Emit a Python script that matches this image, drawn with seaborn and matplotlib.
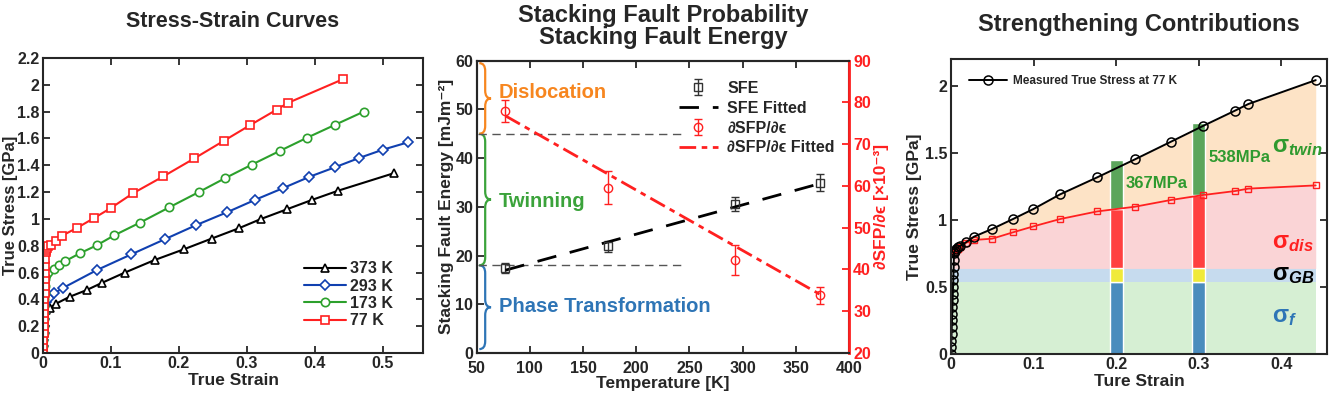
import numpy as np
import pandas as pd
import matplotlib
matplotlib.use("Agg")
import matplotlib.pyplot as plt
from matplotlib.path import Path
from matplotlib.patches import PathPatch
from matplotlib.ticker import FuncFormatter
import seaborn as sns

# ---------------- data: stress-strain curves ----------------
strain_373 = [0, 0.0003, 0.0005, 0.0008, 0.001, 0.0013, 0.0015, 0.004, 0.0098, 0.0196, 0.039, 0.064,
              0.087, 0.12, 0.164, 0.207, 0.248, 0.288, 0.32, 0.359, 0.396, 0.434, 0.517]
stress_373 = [0, 0.05, 0.1, 0.15, 0.2, 0.25, 0.3, 0.32, 0.337, 0.369, 0.419, 0.469,
              0.524, 0.599, 0.693, 0.773, 0.853, 0.93, 0.998, 1.072, 1.142, 1.21, 1.342]

strain_293 = [0, 0.0003, 0.0005, 0.0008, 0.001, 0.0013, 0.0015, 0.0018, 0.004, 0.009, 0.016, 0.029,
              0.079, 0.13, 0.179, 0.225, 0.271, 0.312, 0.353, 0.392, 0.429, 0.465, 0.5, 0.537]
stress_293 = [0, 0.05, 0.1, 0.15, 0.2, 0.25, 0.3, 0.35, 0.38, 0.41, 0.444, 0.484,
              0.618, 0.736, 0.848, 0.953, 1.05, 1.142, 1.229, 1.314, 1.384, 1.454, 1.516, 1.571]

strain_173 = [0, 0.0003, 0.0005, 0.0008, 0.001, 0.0013, 0.0015, 0.0018, 0.002, 0.0023, 0.0025, 0.0028,
              0.004, 0.008, 0.016, 0.0235, 0.033, 0.054, 0.079, 0.105, 0.143, 0.186, 0.23, 0.268,
              0.307, 0.348, 0.388, 0.429, 0.472]
stress_173 = [0, 0.05, 0.1, 0.15, 0.2, 0.25, 0.3, 0.35, 0.4, 0.45, 0.5, 0.55,
              0.58, 0.605, 0.628, 0.656, 0.686, 0.743, 0.803, 0.878, 0.973, 1.087, 1.202, 1.304,
              1.404, 1.506, 1.604, 1.70, 1.80]

strain_77_elastic = [0, 0.0003, 0.0005, 0.0008, 0.001, 0.0013, 0.0015, 0.0018, 0.002, 0.0023,
                     0.0025, 0.0028, 0.003, 0.0033, 0.0035, 0.0038]
stress_77_elastic = [0, 0.05, 0.1, 0.15, 0.2, 0.25, 0.3, 0.35, 0.4, 0.45,
                     0.5, 0.55, 0.6, 0.65, 0.7, 0.75]
strain_77_plastic = [0.0045, 0.006, 0.008, 0.011, 0.0186, 0.028, 0.05, 0.075, 0.0995, 0.132,
                     0.177, 0.2226, 0.266, 0.305, 0.344, 0.36, 0.4415]
stress_77_plastic = [0.77, 0.785, 0.795, 0.805, 0.835, 0.875, 0.933, 1.006, 1.08, 1.19,
                     1.317, 1.451, 1.582, 1.70, 1.815, 1.864, 2.042]
strain_77 = strain_77_elastic + strain_77_plastic
stress_77 = stress_77_elastic + stress_77_plastic

curve_labels = ["373 K", "293 K", "173 K", "77 K"]

# ---------------- data: SFE / SFP ----------------
temperature = [77, 173, 293, 373]
sfe = [17.4, 21.9, 30.6, 35.0]
sfe_err = [1.0, 1.1, 1.4, 1.7]
sfe_fit_t = [77, 373]
sfe_fit = [17.0, 34.8]
sfp = [78.0, 59.6, 42.3, 33.8]
sfp_err = [2.7, 3.9, 3.5, 2.1]
sfp_fit_t = [77, 373]
sfp_fit = [76.8, 34.0]
region_bounds = [0.8, 18, 45, 59.5]
region_names = ["Phase Transformation", "Twinning", "Dislocation"]
region_label_y = [9.5, 31, 53.5]

# ---------------- data: strengthening contributions ----------------
sigma_dis_plastic = [0.76, 0.775, 0.785, 0.795, 0.83, 0.85, 0.86, 0.907, 0.951, 1.006,
                     1.063, 1.098, 1.148, 1.185, 1.215, 1.233, 1.257]
sigma_f = 0.54
sigma_gb = 0.638
bar_strain = [0.2, 0.3]
bar_dis_top = [1.078, 1.185]
bar_twin = [0.367, 0.538]
bar_twin_labels = ["367MPa", "538MPa"]

# ---------------- style ----------------
sns.set_style("ticks")
plt.rcParams["font.family"] = ["Liberation Sans", "DejaVu Sans"]
plt.rcParams["font.weight"] = "bold"
plt.rcParams["axes.labelweight"] = "bold"
plt.rcParams["axes.linewidth"] = 1.5
plt.rcParams["mathtext.fontset"] = "custom"
plt.rcParams["mathtext.rm"] = "Liberation Sans:bold"
plt.rcParams["mathtext.it"] = "Liberation Sans:italic:bold"
plt.rcParams["mathtext.bf"] = "Liberation Sans:bold"

fmt = FuncFormatter(lambda v, p: f"{v:g}")
RED = "#ff2020"


def style_axes(ax, right=True):
    ax.tick_params(direction="in", top=True, right=right, length=5, width=1.3,
                   labelsize=11.5, pad=2.5)
    ax.xaxis.set_major_formatter(fmt)
    ax.yaxis.set_major_formatter(fmt)
    for lab in ax.get_xticklabels() + ax.get_yticklabels():
        lab.set_fontweight("bold")


def brace(ax, x0, y0, y1, w, h, color):
    ym = (y0 + y1) / 2
    xm = x0 + w / 2
    verts = [(x0, y0), (xm, y0), (xm, y0 + h), (xm, ym - h), (xm, ym), (x0 + w, ym),
             (xm, ym), (xm, ym + h), (xm, y1 - h), (xm, y1), (x0, y1)]
    codes = [Path.MOVETO, Path.CURVE3, Path.CURVE3, Path.LINETO, Path.CURVE3, Path.CURVE3,
             Path.CURVE3, Path.CURVE3, Path.LINETO, Path.CURVE3, Path.CURVE3]
    ax.add_patch(PathPatch(Path(verts, codes), fc="none", ec=color, lw=1.6, clip_on=False))


fig = plt.figure(figsize=(13.33, 3.95), dpi=100)

# ================= panel 1 =================
ax1 = fig.add_axes([0.0323, 0.1063, 0.285, 0.747])
series = [(strain_373, stress_373, "black", "^"),
          (strain_293, stress_293, "#1040b0", "D"),
          (strain_173, stress_173, "#2ca02c", "o"),
          (strain_77, stress_77, RED, "s")]
for (sx, sy, c, m), lab in zip(series, curve_labels):
    df = pd.DataFrame({"strain": sx, "stress": sy})
    sns.lineplot(data=df, x="strain", y="stress", ax=ax1, color=c, marker=m,
                 markersize=6 if m != "D" else 5, markerfacecolor="white",
                 markeredgecolor=c, markeredgewidth=1.2, lw=1.5,
                 estimator=None, sort=False, label=lab)
ax1.set_xlim(0, 0.559)
ax1.set_ylim(0, 2.2)
ax1.set_xticks([0, 0.1, 0.2, 0.3, 0.4, 0.5])
ax1.set_yticks(np.arange(0, 2.21, 0.2))
ax1.set_xlabel("True Strain", fontsize=12.5, labelpad=1)
ax1.set_ylabel("True Stress [GPa]", fontsize=12)
ax1.yaxis.set_label_coords(-0.066, 0.5)
style_axes(ax1)
ax1.legend(loc="lower right", bbox_to_anchor=(0.96, 0.035), frameon=False,
           prop={"size": 11.5, "weight": "bold"}, handlelength=2.6, labelspacing=0.15,
           handletextpad=0.3)
ax1.set_title("Stress-Strain Curves", fontsize=15.5, fontweight="bold", pad=22)

# ================= panel 2 =================
ax2 = fig.add_axes([0.3576, 0.1063, 0.2793, 0.74])
ax2r = ax2.twinx()
ax2.set_xlim(50, 400)
ax2.set_ylim(0, 60)
ax2r.set_ylim(20, 90)

for yb in region_bounds[1:3]:
    ax2.plot([51, 247], [yb, yb], color="#555555", ls=(0, (6, 4)), lw=1)

region_colors = ["#2e75b6", "#3ba33b", "#f7861f"]
for i, (name, col) in enumerate(zip(region_names, region_colors)):
    lo, hi = region_bounds[i], region_bounds[i + 1]
    brace(ax2, 52.5, lo, hi, 11, 1.6, col)
    ax2.text(71, region_label_y[i], name, color=col, fontsize=14.5, fontweight="bold",
             va="center")

h_sfe = ax2.errorbar(temperature, sfe, yerr=sfe_err, fmt="s", ms=6, mfc="none",
                     mec="#333333", ecolor="#333333", capsize=3, elinewidth=1, mew=1,
                     label="SFE")
sfe_fit_df = pd.DataFrame({"T": sfe_fit_t, "v": sfe_fit})
sns.lineplot(data=sfe_fit_df, x="T", y="v", ax=ax2, color="black", lw=2,
             dashes=False, estimator=None, label="SFE Fitted")
ax2.lines[-1].set_dashes((7, 5))

h_sfp = ax2r.errorbar(temperature, sfp, yerr=sfp_err, fmt="o", ms=6, mfc="none",
                      mec=RED, ecolor=RED, capsize=3, elinewidth=1, mew=1,
                      label="∂SFP/∂ϵ")
sfp_fit_df = pd.DataFrame({"T": sfp_fit_t, "v": sfp_fit})
sns.lineplot(data=sfp_fit_df, x="T", y="v", ax=ax2r, color=RED, lw=2,
             estimator=None, label="∂SFP/∂ϵ Fitted")
ax2r.lines[-1].set_dashes((6, 2, 2, 2))

hs = [h_sfe, ax2.lines[-1], h_sfp, ax2r.lines[-1]]
labs = ["SFE", "SFE Fitted", "∂SFP/∂ϵ", "∂SFP/∂ϵ Fitted"]
if ax2.get_legend():
    ax2.get_legend().remove()
ax2r.legend(hs, labs, loc="upper right", bbox_to_anchor=(1.0, 0.98), frameon=False,
            prop={"size": 11.5, "weight": "bold"}, handlelength=2.4, labelspacing=0.3,
            handletextpad=0.6)

ax2.set_xticks(np.arange(50, 401, 50))
ax2.set_yticks(np.arange(0, 61, 10))
ax2r.set_yticks(np.arange(20, 91, 10))
ax2.set_xlabel("Temperature [K]", fontsize=12.5, labelpad=0)
ax2.set_ylabel("Stacking Fault Energy [mJm⁻²]", fontsize=12.5, labelpad=1)
ax2r.set_ylabel("∂SFP/∂ϵ [×10⁻³]", fontsize=12.5, color=RED, labelpad=2)
style_axes(ax2, right=False)
ax2.tick_params(axis="x", pad=6)
ax2r.tick_params(direction="in", length=5, width=1.3, labelsize=11.5, colors=RED, pad=3)
ax2r.yaxis.set_major_formatter(fmt)
for lab in ax2r.get_yticklabels():
    lab.set_fontweight("bold")
ax2r.spines["right"].set_color(RED)
ax2r.spines["right"].set_linewidth(2)
ax2.set_title("Stacking Fault Probability\nStacking Fault Energy", fontsize=17,
              fontweight="bold", pad=12, linespacing=0.92)

# ================= panel 3 =================
ax3 = fig.add_axes([0.7134, 0.1038, 0.282, 0.747])
xp = strain_77_plastic
x_fill = [0.003] + xp
ax3.fill_between([0.003, xp[-1]], 0, sigma_f, color="#d6efd3", lw=0)
ax3.fill_between([0.003, xp[-1]], sigma_f, sigma_gb, color="#c6dbee", lw=0)
ax3.fill_between(x_fill, sigma_gb, [0.75] + sigma_dis_plastic, color="#fad4d6", lw=0)
ax3.fill_between(xp, sigma_dis_plastic, stress_77_plastic, color="#fde3c6", lw=0)

bw = 0.016
ax3.bar(bar_strain, [sigma_f] * 2, width=bw, color="#4a8cbd")
ax3.bar(bar_strain, [sigma_gb - sigma_f] * 2, bottom=sigma_f, width=bw, color="#f0ea3a")
ax3.bar(bar_strain, [t - sigma_gb for t in bar_dis_top], bottom=sigma_gb, width=bw,
        color="#ff4040")
ax3.bar(bar_strain, bar_twin, bottom=bar_dis_top, width=bw, color="#5ba55b")

dis_df = pd.DataFrame({"strain": xp, "stress": sigma_dis_plastic})
sns.lineplot(data=dis_df, x="strain", y="stress", ax=ax3, color=RED, marker="s",
             markersize=5, markerfacecolor="none", markeredgecolor=RED, markeredgewidth=1,
             lw=1.3, estimator=None, sort=False)
meas_df = pd.DataFrame({"strain": strain_77, "stress": stress_77})
sns.lineplot(data=meas_df, x="strain", y="stress", ax=ax3, color="black", marker="o",
             markersize=6.5, markerfacecolor="none", markeredgecolor="black",
             markeredgewidth=1.1, lw=1.4, estimator=None, sort=False,
             label="Measured True Stress at 77 K")
ax3.legend(loc="upper left", bbox_to_anchor=(0.02, 0.98), frameon=False,
           prop={"size": 8.5, "weight": "bold"}, handlelength=3.2, handletextpad=0.5)

for xs, top, t, lab in zip(bar_strain, bar_dis_top, bar_twin, bar_twin_labels):
    ax3.text(xs + 0.012, top + t * 0.52, lab, color="#2f9a2f", fontsize=12,
             fontweight="bold", va="center")

ax3.text(0.388, 1.55, r"$\mathrm{\sigma}_{twin}$", color="#2f9a2f", fontsize=17, va="center")
ax3.text(0.388, 0.83, r"$\mathrm{\sigma}_{dis}$", color=RED, fontsize=17, va="center")
ax3.text(0.388, 0.59, r"$\mathrm{\sigma}_{GB}$", color="black", fontsize=17, va="center")
ax3.text(0.388, 0.28, r"$\mathrm{\sigma}_{f}$", color="#2e75b6", fontsize=17, va="center")

ax3.set_xlim(0, 0.455)
ax3.set_ylim(0, 2.2)
ax3.set_xticks([0, 0.1, 0.2, 0.3, 0.4])
ax3.set_yticks([0, 0.5, 1, 1.5, 2])
ax3.set_xlabel("Ture Strain", fontsize=12.5, labelpad=1)
ax3.set_ylabel("True Stress [GPa]", fontsize=12.5, labelpad=2)
style_axes(ax3)
ax3.set_title("Strengthening Contributions", fontsize=17, fontweight="bold", pad=20)

fig.savefig("out.png", dpi=100)
